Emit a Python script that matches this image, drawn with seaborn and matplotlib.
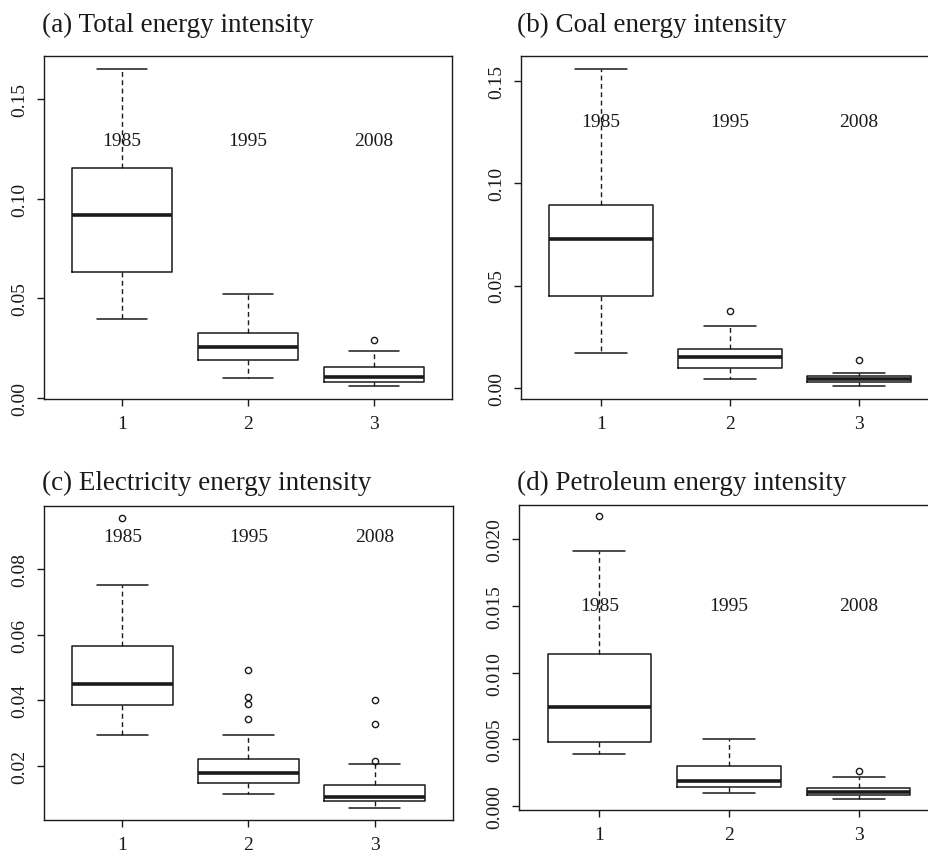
import matplotlib
matplotlib.use("Agg")
import matplotlib.pyplot as plt
import seaborn as sns

sns.set_style("ticks")
plt.rcParams['font.family'] = ['Liberation Serif', 'DejaVu Serif']

groups = ["1", "2", "3"]
years = ["1985", "1995", "2008"]
titles = ["(a) Total energy intensity", "(b) Coal energy intensity",
          "(c) Electricity energy intensity", "(d) Petroleum energy intensity"]

# five-number summaries: [low whisker, q1, median, q3, high whisker]
total_stats = [[0.0399, 0.0632, 0.0920, 0.1155, 0.1650],
               [0.0104, 0.0191, 0.0256, 0.0327, 0.0523],
               [0.0060, 0.0082, 0.0107, 0.0157, 0.0235]]
total_out = [[], [], [0.0292]]

coal_stats = [[0.0173, 0.0448, 0.0725, 0.0892, 0.1559],
              [0.0043, 0.0098, 0.0150, 0.0190, 0.0302],
              [0.0008, 0.0028, 0.0043, 0.0056, 0.0072]]
coal_out = [[], [0.0376], [0.0137]]

elec_stats = [[0.0293, 0.0386, 0.0450, 0.0564, 0.0753],
              [0.0113, 0.0146, 0.0177, 0.0220, 0.0293],
              [0.0069, 0.0091, 0.0104, 0.0139, 0.0204]]
elec_out = [[0.0958], [0.0493, 0.0409, 0.0389, 0.0341], [0.0400, 0.0326, 0.0213]]

petro_stats = [[0.00393, 0.00478, 0.00742, 0.01143, 0.01913],
               [0.00099, 0.00147, 0.00187, 0.00299, 0.00505],
               [0.00057, 0.00082, 0.00105, 0.00139, 0.00217]]
petro_out = [[0.0217], [], [0.00264]]

year_label_y = [0.129, 0.13, 0.09, 0.015]
yticks_list = [[0.00, 0.05, 0.10, 0.15],
               [0.00, 0.05, 0.10, 0.15],
               [0.02, 0.04, 0.06, 0.08],
               [0.000, 0.005, 0.010, 0.015, 0.020]]
ytick_fmt = ["%.2f", "%.2f", "%.2f", "%.3f"]

all_stats = [total_stats, coal_stats, elec_stats, petro_stats]
all_out = [total_out, coal_out, elec_out, petro_out]

W, H = 929, 854
fig = plt.figure(figsize=(W / 100, H / 100), dpi=100)

# axes boxes in pixels: left, top, right, bottom
boxes_px = [(44, 57, 452, 400), (521, 57, 939, 400),
            (44, 507, 453, 821), (519, 506, 939, 811)]
title_px = [(42, 32), (517, 32), (42, 490), (517, 490)]

ink = "#1a1a1a"
for i in range(4):
    l, t, r, b = boxes_px[i]
    ax = fig.add_axes([l / W, 1 - b / H, (r - l) / W, (b - t) / H])
    stats = []
    for j in range(3):
        lo, q1, med, q3, hi = all_stats[i][j]
        stats.append(dict(whislo=lo, q1=q1, med=med, q3=q3, whishi=hi,
                          fliers=all_out[i][j], label=groups[j]))
    ax.bxp(stats, positions=[1, 2, 3], widths=0.8, showfliers=True,
           boxprops=dict(color=ink, linewidth=1.1),
           medianprops=dict(color=ink, linewidth=2.6, solid_capstyle="butt"),
           whiskerprops=dict(color=ink, linewidth=1.0, linestyle=(0, (3.5, 2.5))),
           capprops=dict(color=ink, linewidth=1.1),
           capwidths=0.4,
           flierprops=dict(marker="o", markerfacecolor="none", markeredgecolor=ink,
                           markersize=4.5, markeredgewidth=1.0))
    vals = [v for s in all_stats[i] for v in (s[0], s[4])] + [v for o in all_out[i] for v in o]
    lo, hi = min(vals), max(vals)
    ext = (hi - lo) * 0.04
    ax.set_ylim(lo - ext, hi + ext)
    ax.set_xlim(0.38, 3.62)
    for j in range(3):
        ax.text(j + 1, year_label_y[i], years[j], ha="center", va="center",
                fontsize=14, color=ink)
    ax.set_xticks([1, 2, 3])
    ax.set_xticklabels(groups)
    ax.set_yticks(yticks_list[i])
    ax.set_yticklabels([ytick_fmt[i] % v for v in yticks_list[i]], rotation=90,
                       va="center")
    ax.tick_params(axis="both", length=5, width=1.0, color=ink, labelsize=14,
                   labelcolor=ink, pad=6.5)
    for sp in ax.spines.values():
        sp.set_visible(True)
        sp.set_color(ink)
        sp.set_linewidth(1.0)
    ax.grid(False)
    tx, ty = title_px[i]
    fig.text(tx / W, 1 - ty / H, titles[i], ha="left", va="baseline",
             fontsize=19.5, color=ink)

fig.savefig("out.png", dpi=100)
